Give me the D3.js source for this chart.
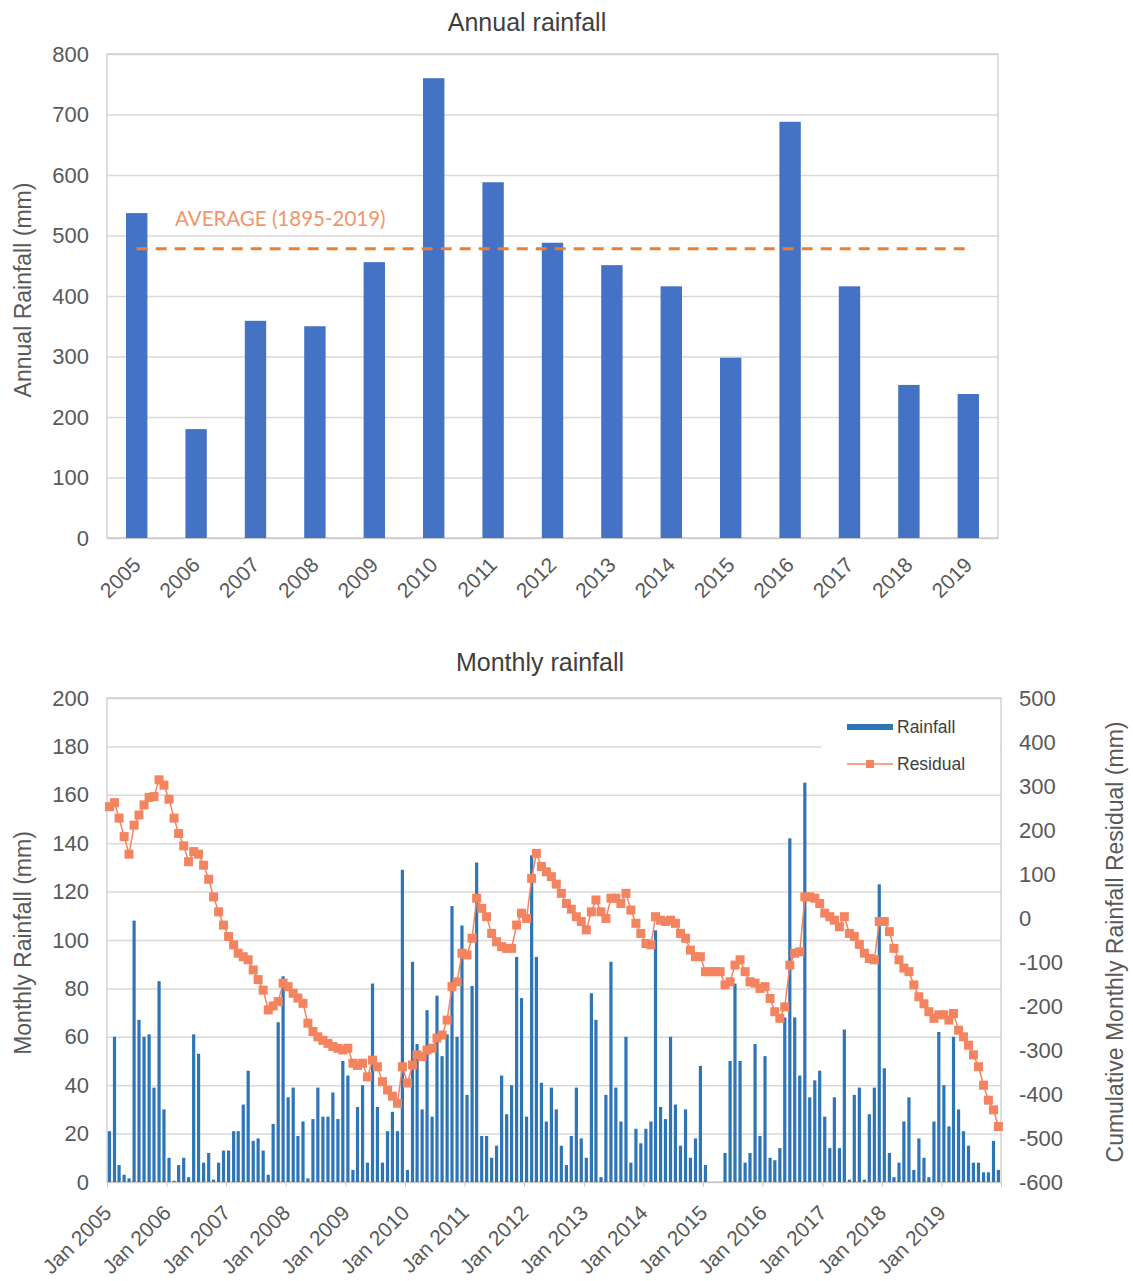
<!DOCTYPE html>
<html>
<head>
<meta charset="utf-8">
<script src="https://cdn.jsdelivr.net/npm/d3@7"></script>
<style>
  body { margin: 0; background: #fff; }
  text { font-family: "Liberation Sans", Arial, sans-serif; }
</style>
</head>
<body>
<script>
// ---- data ----
const years = ['2005', '2006', '2007', '2008', '2009', '2010', '2011', '2012',
    '2013', '2014', '2015', '2016', '2017', '2018', '2019'];
const annualRainfall = [537, 180, 359, 350, 456, 760, 588, 488, 451, 416, 298, 688, 416, 253, 238];
const averageRainfall = 478;
const averageLabel = 'AVERAGE (1895-2019)';
const annualTicks = [0, 100, 200, 300, 400, 500, 600, 700, 800];

// monthly rainfall, Jan 2005 .. Dec 2019
const monthlyRainfall = [
    21, 60, 7, 3, 1.5, 108, 67, 60, 61, 39, 83, 30,
    10, 0.5, 7, 10, 2, 61, 53, 8, 12, 1, 8, 13,
    13, 21, 21, 32, 46, 17, 18, 13, 3, 24, 66, 85,
    35, 39, 19, 25, 1.5, 26, 39, 27, 27, 37, 26, 50,
    44, 5, 31, 40, 8, 82, 31, 8, 21, 29, 21, 129,
    5, 91, 57, 30, 71, 27, 77, 52, 61, 114, 60, 106,
    36, 81, 132, 19, 19, 10, 15, 44, 28, 40, 93, 76,
    27, 135, 93, 41, 25, 39, 30, 15, 7, 19, 39, 18,
    10, 78, 67, 2, 36, 91, 39, 25, 60, 8, 22, 16,
    22, 25, 104, 31, 26, 60, 32, 15, 30, 10, 18, 48,
    7, 0, 0, 0, 12, 50, 82, 50, 8, 12, 57, 19,
    52, 10, 9, 14, 68, 142, 68, 44, 165, 35, 42, 46,
    27, 14, 35, 14, 63, 1, 36, 39, 1, 28, 39, 123,
    47, 12, 2, 8, 25, 35, 5, 18, 10, 2, 25, 62,
    40, 23, 60, 30, 21, 15, 8, 8, 4, 4, 17, 5
];

// cumulative monthly rainfall residual, Jan 2005 .. Dec 2019
const residual = [
    253, 262, 227, 185, 145, 211, 234, 257, 274, 276, 314, 302,
    270, 227, 192, 164, 128, 151, 145, 120, 88, 48, 14, -16,
    -42, -61, -80, -88, -95, -118, -140, -164, -209, -200, -190, -148,
    -156, -171, -182, -194, -239, -258, -270, -278, -285, -292, -296, -300,
    -296, -330, -335, -330, -361, -323, -338, -372, -391, -405, -421, -338,
    -375, -334, -311, -315, -300, -296, -273, -266, -232, -156, -145, -80,
    -84, -46, 45, 22, 3, -35, -54, -65, -69, -69, -16, 11,
    -1, 90, 147, 117, 105, 94, 77, 56, 33, 20, 3, -8,
    -27, 14, 41, 14, -1, 45, 45, 33, 56, 18, -12, -35,
    -58, -61, 3, -5, -8, -5, -12, -35, -46, -73, -88, -88,
    -122, -122, -122, -122, -152, -145, -107, -95, -122, -145, -148, -160,
    -156, -183, -213, -228, -202, -107, -80, -77, 48, 48, 45, 33,
    11, 3, -5, -20, 3, -35, -42, -60, -80, -92, -95, -8,
    -8, -31, -69, -95, -114, -122, -152, -179, -195, -213, -228, -220,
    -220, -232, -217, -255, -270, -289, -311, -338, -380, -414, -436, -474
];
const monthlyTicks = [0, 20, 40, 60, 80, 100, 120, 140, 160, 180, 200];
const residualTicks = [-600, -500, -400, -300, -200, -100, 0, 100, 200, 300, 400, 500];

const width = 1133;
const height = 1281;
const gridColor = '#d9d9d9';
const labelColor = '#595959';
const titleColor = '#404040';
const residualColor = '#f4845f';
const tickFont = '22px';
const axisTitleFont = '23px';
const titleFont = '25px';

let svg = d3.select('body')
    .append('svg')
    .attr('width', width)
    .attr('height', height);

// ================= Annual rainfall =================
let annual = { left: 107, right: 998, top: 54, bottom: 538 };

let xYear = d3.scaleBand()
    .domain(years)
    .range([annual.left, annual.right])
    .paddingInner(0.64)
    .paddingOuter(0.32);

let yAnnual = d3.scaleLinear()
    .domain([0, 800])
    .range([annual.bottom, annual.top]);

let annualGroup = svg.append('g').classed('annual', true);

annualGroup.append('g')
    .classed('y axis', true)
    .attr('transform', `translate(${annual.left},0)`)
    .call(d3.axisLeft(yAnnual).tickValues(annualTicks)
        .tickSize(-(annual.right - annual.left)).tickPadding(18))
    .call(g => g.select('.domain').remove())
    .call(g => g.selectAll('line').attr('stroke', gridColor).attr('stroke-width', 1.5))
    .call(g => g.selectAll('text').attr('fill', labelColor).style('font-size', tickFont));

annualGroup.append('rect')
    .attr('x', annual.left)
    .attr('y', annual.top)
    .attr('width', annual.right - annual.left)
    .attr('height', annual.bottom - annual.top)
    .attr('fill', 'none')
    .attr('stroke', '#c8c8c8')
    .attr('stroke-width', 1.2);

annualGroup.selectAll('.bar')
    .data(annualRainfall)
    .enter()
    .append('rect')
    .classed('bar', true)
    .attr('x', (d, i) => xYear(years[i]))
    .attr('width', xYear.bandwidth())
    .attr('y', d => yAnnual(d))
    .attr('height', d => yAnnual(0) - yAnnual(d))
    .attr('fill', '#4472c4');

annualGroup.append('g')
    .classed('x axis', true)
    .attr('transform', `translate(0,${annual.bottom})`)
    .call(d3.axisBottom(xYear).tickSize(0))
    .call(g => g.select('.domain').attr('stroke', '#c8c8c8'))
    .call(g => g.selectAll('text')
        .attr('x', 0).attr('y', 0).attr('dy', '0.35em')
        .attr('text-anchor', 'end')
        .attr('transform', 'translate(0,23) rotate(-45)')
        .attr('fill', labelColor)
        .style('font-size', '21px'));

// average line
annualGroup.append('line')
    .attr('x1', xYear(years[0]) + xYear.bandwidth() / 2)
    .attr('x2', xYear(years[years.length - 1]) + xYear.bandwidth() / 2)
    .attr('y1', yAnnual(averageRainfall))
    .attr('y2', yAnnual(averageRainfall))
    .attr('stroke', '#ed7d31')
    .attr('stroke-width', 3)
    .attr('stroke-dasharray', '11,8');

annualGroup.append('text')
    .attr('x', 175)
    .attr('y', yAnnual(averageRainfall) - 23)
    .attr('fill', '#f0966a')
    .style('font-family', 'Lato, "Open Sans", sans-serif')
    .style('font-size', '20.5px')
    .text(averageLabel);

annualGroup.append('text')
    .attr('x', 527)
    .attr('y', 31)
    .attr('text-anchor', 'middle')
    .attr('fill', titleColor)
    .style('font-size', titleFont)
    .text('Annual rainfall');

annualGroup.append('text')
    .attr('transform', `translate(31,${(annual.top + annual.bottom) / 2 - 6}) rotate(-90)`)
    .attr('text-anchor', 'middle')
    .attr('fill', labelColor)
    .style('font-size', axisTitleFont)
    .text('Annual Rainfall (mm)');

// ================= Monthly rainfall =================
let monthly = { left: 107, right: 1001, top: 698, bottom: 1182 };

let months = d3.timeMonth.range(new Date(2005, 0, 1), new Date(2020, 0, 1));
let monthData = months.map((m, i) => ({
    date: m,
    mid: new Date(m.getFullYear(), m.getMonth(), 16),
    rain: monthlyRainfall[i],
    residual: residual[i]
}));

let xTime = d3.scaleTime()
    .domain([new Date(2005, 0, 1), new Date(2020, 0, 1)])
    .range([monthly.left, monthly.right]);

let yMonthly = d3.scaleLinear()
    .domain([0, 200])
    .range([monthly.bottom, monthly.top]);

let yResidual = d3.scaleLinear()
    .domain([-600, 500])
    .range([monthly.bottom, monthly.top]);

let monthlyGroup = svg.append('g').classed('monthly', true);

monthlyGroup.append('g')
    .classed('y axis', true)
    .attr('transform', `translate(${monthly.left},0)`)
    .call(d3.axisLeft(yMonthly).tickValues(monthlyTicks)
        .tickSize(-(monthly.right - monthly.left)).tickPadding(18))
    .call(g => g.select('.domain').remove())
    .call(g => g.selectAll('line').attr('stroke', gridColor).attr('stroke-width', 1.5))
    .call(g => g.selectAll('text').attr('fill', labelColor).style('font-size', tickFont));

monthlyGroup.append('rect')
    .attr('x', monthly.left)
    .attr('y', monthly.top)
    .attr('width', monthly.right - monthly.left)
    .attr('height', monthly.bottom - monthly.top)
    .attr('fill', 'none')
    .attr('stroke', '#c8c8c8')
    .attr('stroke-width', 1.2);

monthlyGroup.append('g')
    .classed('y2 axis', true)
    .attr('transform', `translate(${monthly.right},0)`)
    .call(d3.axisRight(yResidual).tickValues(residualTicks).tickSize(0).tickPadding(18)
        .tickFormat(d => String(d)))
    .call(g => g.select('.domain').remove())
    .call(g => g.selectAll('text').attr('fill', labelColor).style('font-size', tickFont));

// legend box hides the gridline under it
monthlyGroup.append('rect')
    .attr('x', 821)
    .attr('y', 704)
    .attr('width', 179)
    .attr('height', 84)
    .attr('fill', '#fff');

monthlyGroup.selectAll('.mbar')
    .data(monthData)
    .enter()
    .append('rect')
    .classed('mbar', true)
    .attr('x', d => xTime(d.mid) - 1.6)
    .attr('width', 3.2)
    .attr('y', d => yMonthly(d.rain))
    .attr('height', d => yMonthly(0) - yMonthly(d.rain))
    .attr('fill', '#2e75b6');

let janTicks = months.filter(m => m.getMonth() === 0);

monthlyGroup.append('g')
    .classed('x axis', true)
    .attr('transform', `translate(0,${monthly.bottom})`)
    .call(d3.axisBottom(xTime).tickValues(janTicks).tickSize(5)
        .tickFormat(d3.timeFormat('Jan %Y')))
    .call(g => g.select('.domain').attr('stroke', '#c8c8c8'))
    .call(g => g.selectAll('line').attr('stroke', '#c8c8c8'))
    .call(g => g.selectAll('text')
        .attr('x', 0).attr('y', 0).attr('dy', '0.35em')
        .attr('text-anchor', 'end')
        .attr('transform', 'translate(0,27) rotate(-45)')
        .attr('fill', labelColor)
        .style('font-size', '21px'));

let residualLine = d3.line()
    .x(d => xTime(d.mid))
    .y(d => yResidual(d.residual));

monthlyGroup.append('path')
    .datum(monthData)
    .attr('d', residualLine)
    .attr('fill', 'none')
    .attr('stroke', residualColor)
    .attr('stroke-width', 1.5);

monthlyGroup.selectAll('.marker')
    .data(monthData)
    .enter()
    .append('rect')
    .classed('marker', true)
    .attr('x', d => xTime(d.mid) - 4.5)
    .attr('y', d => yResidual(d.residual) - 4.5)
    .attr('width', 9)
    .attr('height', 9)
    .attr('fill', residualColor);

// legend
let legend = monthlyGroup.append('g').classed('legend', true);
legend.append('rect')
    .attr('x', 847).attr('y', 724).attr('width', 46).attr('height', 6)
    .attr('fill', '#2e75b6');
legend.append('text')
    .attr('x', 897).attr('y', 733)
    .attr('fill', titleColor).style('font-size', '17.5px')
    .text('Rainfall');
legend.append('line')
    .attr('x1', 847).attr('x2', 893).attr('y1', 764).attr('y2', 764)
    .attr('stroke', residualColor).attr('stroke-width', 1.5);
legend.append('rect')
    .attr('x', 866).attr('y', 760).attr('width', 8).attr('height', 8)
    .attr('fill', residualColor);
legend.append('text')
    .attr('x', 897).attr('y', 770)
    .attr('fill', titleColor).style('font-size', '17.5px')
    .text('Residual');

monthlyGroup.append('text')
    .attr('x', 540)
    .attr('y', 671)
    .attr('text-anchor', 'middle')
    .attr('fill', titleColor)
    .style('font-size', titleFont)
    .text('Monthly rainfall');

monthlyGroup.append('text')
    .attr('transform', `translate(31,${(monthly.top + monthly.bottom) / 2 + 3}) rotate(-90)`)
    .attr('text-anchor', 'middle')
    .attr('fill', labelColor)
    .style('font-size', axisTitleFont)
    .text('Monthly Rainfall (mm)');

monthlyGroup.append('text')
    .attr('transform', `translate(1123,${(monthly.top + monthly.bottom) / 2 + 2}) rotate(-90)`)
    .attr('text-anchor', 'middle')
    .attr('fill', labelColor)
    .style('font-size', axisTitleFont)
    .text('Cumulative Monthly Rainfall Residual (mm)');
</script>
</body>
</html>
